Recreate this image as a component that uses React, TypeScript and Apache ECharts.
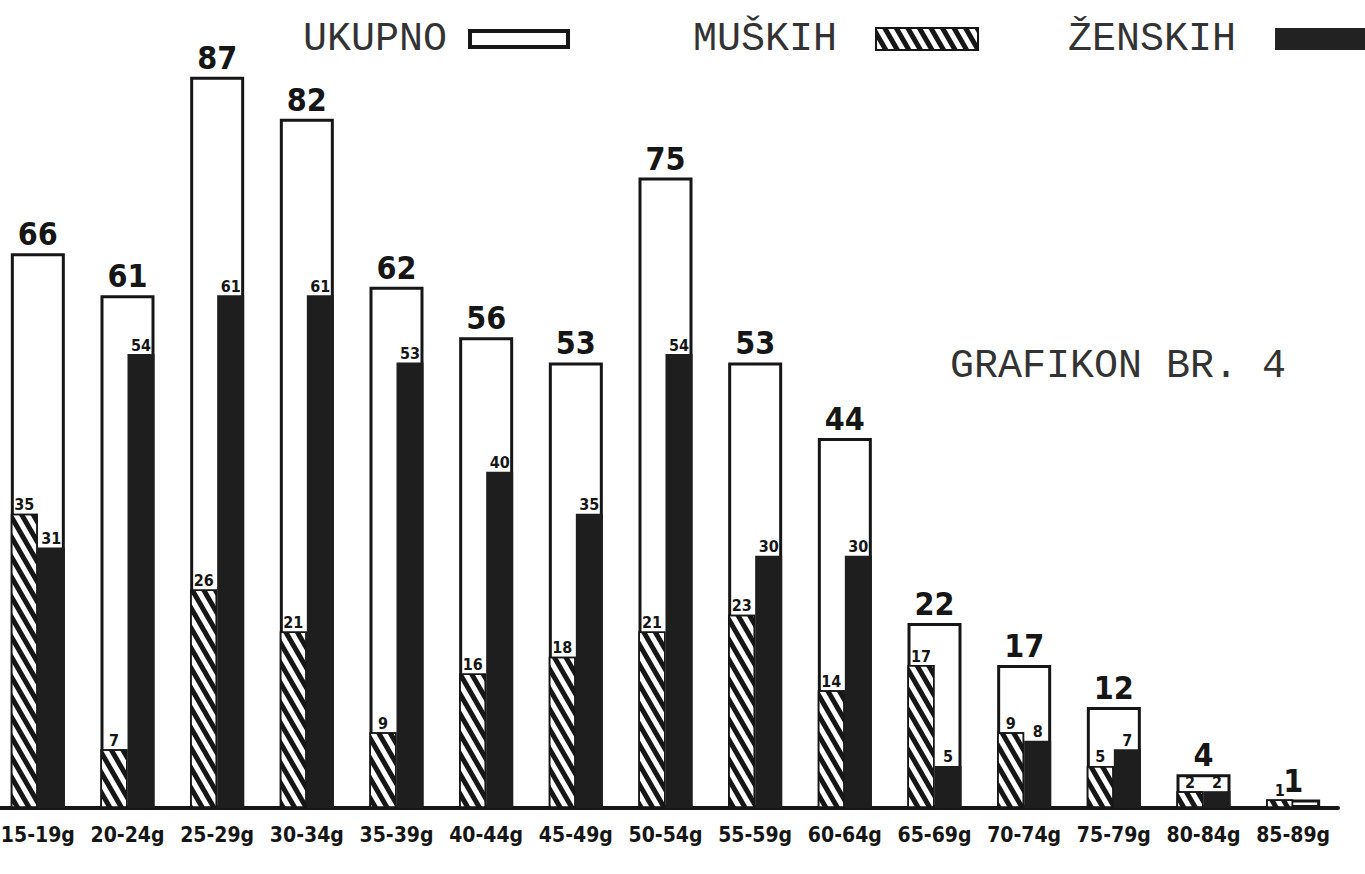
import React, { useEffect, useRef } from "react";
import * as echarts from "echarts";

const categories = ["15-19g", "20-24g", "25-29g", "30-34g", "35-39g", "40-44g", "45-49g", "50-54g", "55-59g", "60-64g", "65-69g", "70-74g", "75-79g", "80-84g", "85-89g"];
const totals = [66, 61, 87, 82, 62, 56, 53, 75, 53, 44, 22, 17, 12, 4, 1];
const male = [35, 7, 26, 21, 9, 16, 18, 21, 23, 14, 17, 9, 5, 2, 1];
const female = [31, 54, 61, 61, 53, 40, 35, 54, 30, 30, 5, 8, 7, 2, 0];

const INK = "#161616";
const HAND = "'DejaVu Sans Condensed', 'Liberation Sans Narrow', 'DejaVu Sans', sans-serif";
const TYPE = "'Liberation Mono', 'DejaVu Sans Mono', monospace";
const SHIFT = 7;

export default function App() {
  const ref = useRef<HTMLDivElement>(null);
  useEffect(() => {
    if (!ref.current) return;
    const chart = echarts.init(ref.current, null, { renderer: "svg" });
    const hatch = {
      symbol: "rect",
      symbolSize: 1,
      dashArrayX: [1, 0],
      dashArrayY: [5, 5],
      rotation: Math.PI / 3,
      color: INK,
    };
    const legendBase = {
      align: "right",
      icon: "rect",
      selectedMode: false,
      textStyle: { fontFamily: TYPE, fontSize: 40, color: "#333" },
    };
    chart.setOption({
      animation: false,
      backgroundColor: "#ffffff",
      title: {
        text: "GRAFIKON BR. 4",
        left: 945 + SHIFT,
        top: 341,
        textStyle: { fontFamily: TYPE, fontSize: 40, fontWeight: "normal", color: "#333" },
      },
      legend: [
        {
          ...legendBase,
          data: ["UKUPNO"],
          left: 298 + SHIFT,
          top: 14,
          itemWidth: 98,
          itemHeight: 16,
          textStyle: { ...legendBase.textStyle, padding: [0, 18, 0, 0] },
          itemStyle: { color: "#fff", borderColor: INK, borderWidth: 4 },
        },
        {
          ...legendBase,
          data: ["MUŠKIH"],
          left: 688 + SHIFT,
          top: 14,
          itemWidth: 102,
          itemHeight: 22,
          textStyle: { ...legendBase.textStyle, padding: [0, 34, 0, 0] },
          itemStyle: { borderColor: INK, borderWidth: 2 },
        },
        {
          ...legendBase,
          data: ["ŽENSKIH"],
          left: 1063 + SHIFT,
          top: 14,
          itemWidth: 93,
          itemHeight: 22,
          textStyle: { ...legendBase.textStyle, padding: [0, 34, 0, 0] },
          itemStyle: { color: "#222", borderWidth: 0 },
        },
      ],
      grid: { left: 0, right: 27, top: 43, bottom: 66, containLabel: false },
      xAxis: [
        {
          type: "category",
          data: categories,
          axisLine: { show: true, lineStyle: { color: INK, width: 4 } },
          axisTick: { show: false },
          axisLabel: {
            interval: 0,
            margin: 16,
            fontFamily: HAND,
            fontWeight: "bold",
            fontSize: 21,
            color: INK,
          },
        },
        {
          type: "category",
          data: categories,
          show: false,
        },
      ],
      yAxis: { type: "value", min: 0, max: 91, show: false, splitLine: { show: false } },
      series: [
        {
          name: "UKUPNO",
          type: "bar",
          xAxisIndex: 0,
          data: totals,
          barWidth: 54,
          z: 1,
          itemStyle: { color: "#fff", borderColor: INK, borderWidth: 3 },
          label: {
            show: true,
            position: "top",
            distance: 3,
            fontFamily: HAND,
            fontWeight: "bold",
            fontSize: 32,
            color: INK,
          },
        },
        {
          name: "MUŠKIH",
          type: "bar",
          xAxisIndex: 1,
          data: male,
          barWidth: 27,
          barGap: "0%",
          z: 3,
          itemStyle: { color: "#fff", borderColor: INK, borderWidth: 1.5, decal: hatch },
          label: {
            show: true,
            position: "top",
            distance: 1,
            fontFamily: HAND,
            fontWeight: "bold",
            fontSize: 16,
            color: INK,
            formatter: (p: any) => (p.value ? String(p.value) : ""),
          },
        },
        {
          name: "ŽENSKIH",
          type: "bar",
          xAxisIndex: 1,
          data: female,
          barWidth: 27,
          barGap: "0%",
          z: 3,
          itemStyle: { color: "#1e1e1e" },
          label: {
            show: true,
            position: "top",
            distance: 1,
            fontFamily: HAND,
            fontWeight: "bold",
            fontSize: 16,
            color: INK,
            formatter: (p: any) => (p.value ? String(p.value) : ""),
          },
        },
      ],
    });
    return () => chart.dispose();
  }, []);
  return (
    <div
      ref={ref}
      style={{ position: "fixed", left: -SHIFT, top: 0, width: 1365 + SHIFT, height: 874, background: "#fff" }}
    />
  );
}
